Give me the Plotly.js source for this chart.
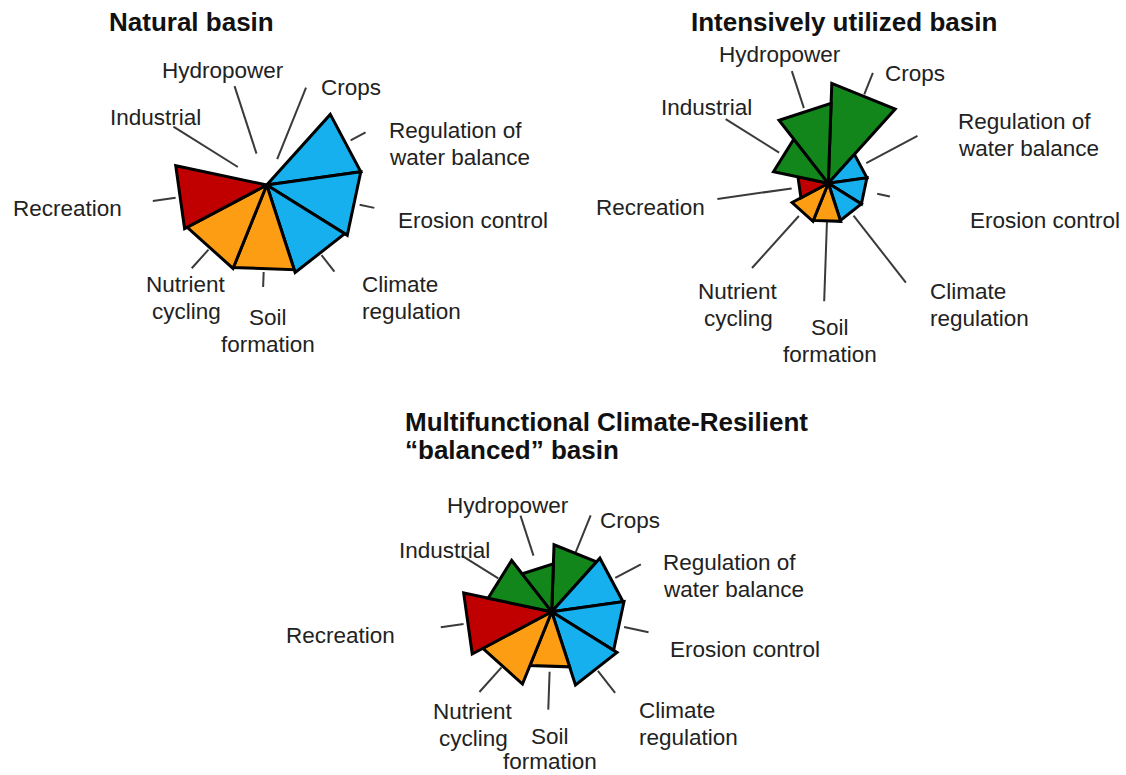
<!DOCTYPE html>
<html>
<head>
<meta charset="utf-8">
<script src="https://cdn.plot.ly/plotly-3.0.1.min.js"></script>
<style>
html,body{margin:0;padding:0;background:#ffffff;}
#chart{width:1126px;height:775px;}
</style>
</head>
<body>
<div id="chart"></div>
<script>
// ---------------- DATA ----------------
// categories listed clockwise, starting at the top (12 o'clock)
const categories = ['Crops', 'Regulation of water balance', 'Erosion control', 'Climate regulation',
  'Soil formation', 'Nutrient cycling', 'Recreation', 'Industrial', 'Hydropower'];
const categoryLabels = ['Crops', 'Regulation of<br>water balance', 'Erosion control', 'Climate<br>regulation',
  'Soil<br>formation', 'Nutrient<br>cycling', 'Recreation', 'Industrial', 'Hydropower'];
const serviceGroup = ['provisioning', 'regulating', 'regulating', 'regulating',
  'supporting', 'supporting', 'cultural', 'provisioning', 'provisioning'];

// service level of each category (0-10 scale)
const naturalValues   = [0.0, 9.5, 9.5, 9.2, 8.9, 9.0, 9.3, 0.0, 0.0];
const intensiveValues = [10.0, 3.9, 3.9, 3.9, 4.0, 4.1, 3.1, 5.6, 8.0];
const balancedValues  = [6.7, 7.2, 7.3, 7.7, 5.8, 7.8, 9.0, 6.5, 4.8];

const panelTitles = ['Natural basin', 'Intensively utilized basin',
  'Multifunctional Climate-Resilient', '“balanced” basin'];

// ---------------- STYLE / LAYOUT ----------------
const W = 1126, H = 775;
const groupColors = {provisioning: '#13861b', regulating: '#17b0ee', supporting: '#fd9d14', cultural: '#c00000'};
const FONT = 'Liberation Sans, Arial, Helvetica, sans-serif';
const TEXT_COLOR = '#222222';
const RMAX = 14;          // radial range
const RPX = 140;          // radius of the polar domain in px
const SECTOR = 360 / categories.length;
const ROT = 2;            // small clockwise offset of sector boundaries
const LINE_GAP = 27.5;    // spacing of two-line labels (px)

// leader lines: inner/outer radius (radial units) for each category
const panels = [
  {id: 'polar', cx: 266.7, cy: 185, values: naturalValues,
   leadIn:  [2.8, 9.5, 9.5, 8.9, 8.7, 8.7, 9.2, 3.4, 3.3],
   leadOut: [10.5, 11.2, 11.0, 11.0, 10.2, 11.2, 11.5, 11.0, 10.4],
   labels: [
     {x: 351, y: 88, xa: 'center'},
     {x: 387, y: 144, xa: 'left'},
     {x: 473, y: 220, xa: 'center'},
     {x: 360, y: 298, xa: 'left'},
     {x: 268, y: 331, xa: 'center'},
     {x: 186, y: 298, xa: 'center'},
     {x: 67, y: 209, xa: 'center'},
     {x: 155, y: 117, xa: 'center'},
     {x: 223, y: 70, xa: 'center'}
   ]},
  {id: 'polar2', cx: 828.3, cy: 183.3, values: intensiveValues,
   leadIn:  [9.6, 4.3, 5.0, 4.1, 3.8, 4.4, 3.7, 5.8, 7.9],
   leadOut: [11.9, 10.1, 6.3, 12.6, 11.8, 11.4, 11.2, 12.1, 11.8],
   labels: [
     {x: 915, y: 73, xa: 'center'},
     {x: 956, y: 135, xa: 'left'},
     {x: 1045, y: 220, xa: 'center'},
     {x: 928, y: 305, xa: 'left'},
     {x: 830, y: 341, xa: 'center'},
     {x: 738, y: 305, xa: 'center'},
     {x: 650, y: 208, xa: 'center'},
     {x: 706, y: 107, xa: 'center'},
     {x: 780, y: 55, xa: 'center'}
   ]},
  {id: 'polar3', cx: 551.7, cy: 611.7, values: balancedValues,
   leadIn:  [6.4, 7.2, 7.4, 7.5, 6.0, 7.5, 8.9, 6.3, 5.9],
   leadOut: [10.4, 10.1, 9.9, 10.3, 9.8, 10.8, 11.2, 10.6, 10.1],
   labels: [
     {x: 630, y: 520, xa: 'center'},
     {x: 661, y: 576, xa: 'left'},
     {x: 745, y: 649, xa: 'center'},
     {x: 637, y: 724, xa: 'left'},
     {x: 550, y: 749, xa: 'center', gap: 25},
     {x: 473, y: 725, xa: 'center'},
     {x: 340, y: 635, xa: 'center'},
     {x: 444, y: 550, xa: 'center'},
     {x: 508, y: 505, xa: 'center'}
   ]}
];
const titlePos = [
  {x: 107, y: 22, xa: 'left'},
  {x: 844, y: 22, xa: 'center'},
  {x: 403, y: 422, xa: 'left'},
  {x: 403, y: 450, xa: 'left'}
];

// ---------------- BUILD ----------------
const px = x => x / W;
const py = y => 1 - y / H;
const traces = [];
const layout = {
  width: W, height: H,
  margin: {l: 0, r: 0, t: 0, b: 0},
  paper_bgcolor: '#ffffff',
  showlegend: false,
  annotations: []
};

panels.forEach(p => {
  layout[p.id] = {
    domain: {x: [px(p.cx - RPX), px(p.cx + RPX)], y: [py(p.cy + RPX), py(p.cy - RPX)]},
    bgcolor: 'rgba(0,0,0,0)',
    radialaxis: {visible: false, range: [0, RMAX], autorange: false},
    angularaxis: {visible: false, rotation: 90, direction: 'clockwise'}
  };

  // leader lines (radial, through the middle of each sector)
  const lr = [], lt = [];
  categories.forEach((c, i) => {
    const mid = ROT + SECTOR * (i + 0.5);
    lr.push(p.leadIn[i], p.leadOut[i], null);
    lt.push(mid, mid, null);
  });
  traces.push({type: 'scatterpolar', subplot: p.id, mode: 'lines', r: lr, theta: lt,
    line: {color: '#3a3a3a', width: 2}, cliponaxis: false, hoverinfo: 'skip', connectgaps: false});

  // wedges
  categories.forEach((c, i) => {
    const a0 = ROT + SECTOR * i, a1 = ROT + SECTOR * (i + 1);
    const v = p.values[i];
    traces.push({type: 'scatterpolar', subplot: p.id, mode: 'lines', name: c,
      r: [0, v, v, 0], theta: [a0, a0, a1, a0],
      fill: 'toself', fillcolor: groupColors[serviceGroup[i]],
      line: {color: '#000000', width: 3}, cliponaxis: false, hoverinfo: 'skip'});
  });

  // labels (each text line placed separately for tight line spacing)
  p.labels.forEach((l, i) => {
    const lines = categoryLabels[i].split('<br>');
    const gap = l.gap || LINE_GAP;
    lines.forEach((txt, k) => {
      const yy = l.y + (k - (lines.length - 1) / 2) * gap;
      layout.annotations.push({
        xref: 'paper', yref: 'paper', x: px(l.x), y: py(yy),
        xanchor: l.xa, yanchor: 'middle', align: l.xa === 'left' ? 'left' : 'center',
        showarrow: false, text: txt,
        font: {family: FONT, size: 22.5, color: TEXT_COLOR}
      });
    });
  });
});

panelTitles.forEach((t, i) => {
  const tp = titlePos[i];
  layout.annotations.push({
    xref: 'paper', yref: 'paper', x: px(tp.x), y: py(tp.y),
    xanchor: tp.xa, yanchor: 'middle', showarrow: false,
    text: '<b>' + t + '</b>',
    font: {family: FONT, size: 26, color: '#111111'}
  });
});

Plotly.newPlot('chart', traces, layout, {staticPlot: true, displayModeBar: false});
</script>
</body>
</html>
